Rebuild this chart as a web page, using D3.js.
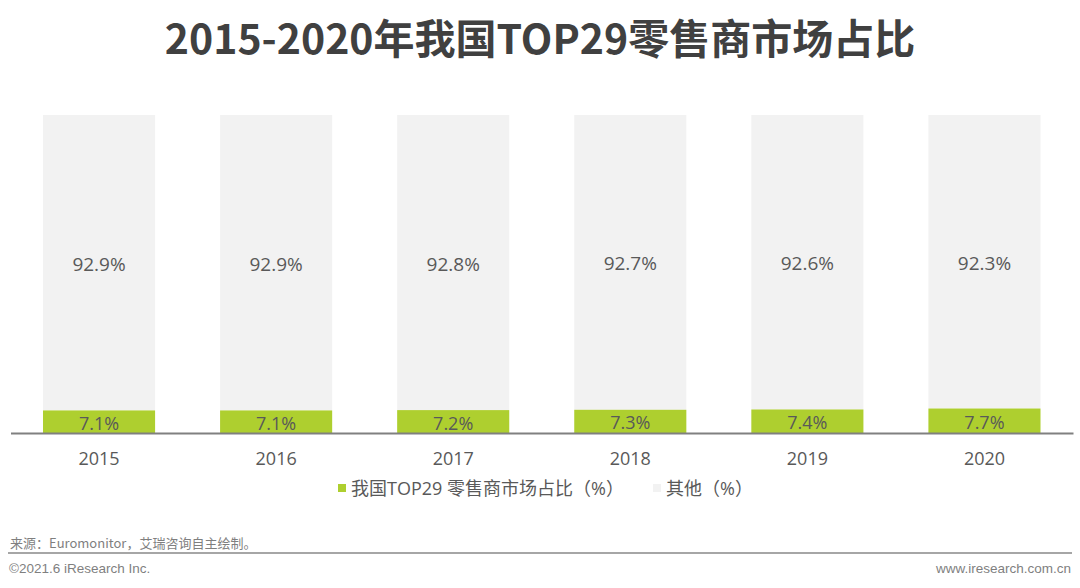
<!DOCTYPE html>
<html>
<head>
<meta charset="utf-8">
<script src="https://cdn.jsdelivr.net/npm/d3@7"></script>
<style>
  body { margin: 0; background: #fff; }
  svg { display: block; }
</style>
</head>
<body>
<script>
var years = ["2015", "2016", "2017", "2018", "2019", "2020"];
var top29 = [7.1, 7.1, 7.2, 7.3, 7.4, 7.7];
var others = [92.9, 92.9, 92.8, 92.7, 92.6, 92.3];
var seriesNames = ["我国TOP29 零售商市场占比（%）", "其他（%）"];
var colors = ["#aecf2f", "#f2f2f2"];

var w = 1080;
var h = 588;
var font = "'Open Sans', 'Noto Sans CJK SC', sans-serif";

var svg = d3.select("body")
  .append("svg")
  .attr("width", w)
  .attr("height", h);

// title
svg.append("text")
  .attr("x", 540)
  .attr("y", 54)
  .attr("text-anchor", "middle")
  .style("font-family", "'Noto Sans CJK SC', sans-serif")
  .style("font-weight", "bold")
  .style("font-size", "41px")
  .style("fill", "#404040")
  .text("2015-2020年我国TOP29零售商市场占比");

var x = d3.scaleBand()
  .domain(years)
  .range([10.5, 1073])
  .paddingInner(0.367)
  .paddingOuter(0.1835);

var y = d3.scaleLinear()
  .domain([0, 100])
  .range([433, 115]);

var rows = years.map(function (d, i) {
  return { year: d, top: top29[i], other: others[i] };
});

// other (upper) part
svg.selectAll(".other")
  .data(rows)
  .enter().append("rect")
  .attr("class", "other")
  .attr("x", function (d) { return x(d.year); })
  .attr("y", function (d) { return y(d.top + d.other); })
  .attr("width", x.bandwidth())
  .attr("height", function (d) { return y(d.top) - y(d.top + d.other); })
  .style("fill", colors[1]);

// top29 part
svg.selectAll(".top")
  .data(rows)
  .enter().append("rect")
  .attr("class", "top")
  .attr("x", function (d) { return x(d.year); })
  .attr("y", function (d) { return y(d.top); })
  .attr("width", x.bandwidth())
  .attr("height", function (d) { return y(0) - y(d.top); })
  .style("fill", colors[0]);

// labels
svg.selectAll(".lblOther")
  .data(rows)
  .enter().append("text")
  .attr("x", function (d) { return x(d.year) + x.bandwidth() / 2; })
  .attr("y", function (d) { return (y(d.top) + y(d.top + d.other)) / 2 + 8; })
  .attr("text-anchor", "middle")
  .style("font-family", font)
  .style("font-size", "19px")
  .style("fill", "#595959")
  .text(function (d) { return d.other.toFixed(1) + "%"; });

svg.selectAll(".lblTop")
  .data(rows)
  .enter().append("text")
  .attr("x", function (d) { return x(d.year) + x.bandwidth() / 2; })
  .attr("y", function (d) { return (y(0) + y(d.top)) / 2 + 8; })
  .attr("text-anchor", "middle")
  .style("font-family", font)
  .style("font-size", "18px")
  .style("fill", "#595959")
  .text(function (d) { return d.top.toFixed(1) + "%"; });

// x axis
var xAxis = svg.append("g")
  .attr("transform", "translate(0,433)")
  .call(d3.axisBottom(x).tickSize(0).tickPadding(19));
xAxis.select(".domain")
  .attr("stroke", "#808080")
  .attr("stroke-width", 2);
xAxis.selectAll("text")
  .style("font-family", font)
  .style("font-size", "18px")
  .style("fill", "#595959");

// legend
var legendX = [338, 653];
var legend = svg.selectAll(".legend")
  .data(seriesNames)
  .enter().append("g")
  .attr("transform", function (d, i) { return "translate(" + legendX[i] + ",488)"; });
legend.append("rect")
  .attr("x", 0)
  .attr("y", -4)
  .attr("width", 8)
  .attr("height", 8)
  .style("fill", function (d, i) { return colors[i]; });
legend.append("text")
  .attr("x", 13)
  .attr("y", 7)
  .style("font-family", font)
  .style("font-size", "18px")
  .style("fill", "#595959")
  .text(function (d) { return d; });

// footer
svg.append("text")
  .attr("x", 10)
  .attr("y", 548)
  .style("font-family", "'Noto Sans CJK SC', sans-serif")
  .style("font-size", "13px")
  .style("fill", "#7f7f7f")
  .text("来源：Euromonitor，艾瑞咨询自主绘制。");

svg.append("line")
  .attr("x1", 8)
  .attr("x2", 1072)
  .attr("y1", 553)
  .attr("y2", 553)
  .attr("stroke", "#a6a6a6")
  .attr("stroke-width", 2);

svg.append("text")
  .attr("x", 9)
  .attr("y", 573)
  .style("font-family", "'Liberation Sans Narrow', 'Liberation Sans', sans-serif")
  .style("font-size", "13.5px")
  .style("fill", "#7f7f7f")
  .text("©2021.6 iResearch Inc.");

svg.append("text")
  .attr("x", 1071)
  .attr("y", 573)
  .attr("text-anchor", "end")
  .style("font-family", "'Liberation Sans Narrow', 'Liberation Sans', sans-serif")
  .style("font-size", "13.5px")
  .style("fill", "#7f7f7f")
  .text("www.iresearch.com.cn");
</script>
</body>
</html>
